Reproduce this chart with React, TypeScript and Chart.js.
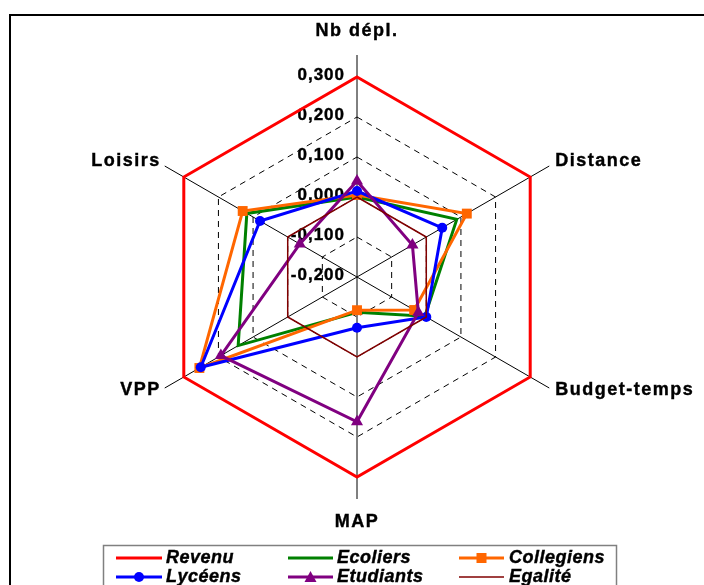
import React, { useEffect, useRef } from "react";
import { Chart, registerables } from "chart.js";
Chart.register(...registerables);

const categories = ["Nb dépl.", "Distance", "Budget-temps", "MAP", "VPP", "Loisirs"];
const tickValues = [0.3, 0.2, 0.1, 0.0, -0.1, -0.2];
const tickLabels = ["0,300", "0,200", "0,100", "0,000", "-0,100", "-0,200"];
const revenu = [0.3, 0.3, 0.3, 0.3, 0.3, 0.3];
const ecoliers = [0.0, 0.088, -0.004, -0.112, 0.143, 0.118];
const collegiens = [0.005, 0.117, -0.035, -0.117, 0.255, 0.13];
const lyceens = [0.015, 0.046, 0.0, -0.073, 0.251, 0.08];
const etudiants = [0.04, -0.04, -0.023, 0.162, 0.193, -0.035];
const egalite = [0, 0, 0, 0, 0, 0];
const seriesNames = ["Revenu", "Ecoliers", "Collegiens", "Lycéens", "Etudiants", "Egalité"];

const RED = "#FF0000";
const GREEN = "#008000";
const ORANGE = "#FF6600";
const BLUE = "#0000FF";
const PURPLE = "#800080";
const MAROON = "#800000";

const legendItems = [
  { name: seriesNames[0], color: RED, width: 3, marker: "" },
  { name: seriesNames[1], color: GREEN, width: 3, marker: "" },
  { name: seriesNames[2], color: ORANGE, width: 3, marker: "rect" },
  { name: seriesNames[3], color: BLUE, width: 3, marker: "circle" },
  { name: seriesNames[4], color: PURPLE, width: 3, marker: "triangle" },
  { name: seriesNames[5], color: MAROON, width: 1.5, marker: "" },
];

function heavyText(ctx: CanvasRenderingContext2D, s: string, x: number, y: number) {
  ctx.fillText(s, x, y);
  ctx.strokeText(s, x, y);
}

const decor = {
  id: "decor",
  beforeDraw(chart: any) {
    const ctx = chart.ctx;
    ctx.save();
    ctx.fillStyle = "#fff";
    ctx.fillRect(0, 0, chart.width, chart.height);
    ctx.strokeStyle = "#000";
    ctx.lineWidth = 2;
    ctx.strokeRect(10, 15, chart.width + 20, chart.height + 20);
    ctx.restore();
  },
  beforeDatasetsDraw(chart: any) {
    const scale = chart.scales.r;
    const ctx = chart.ctx;
    const R = scale.drawingArea;
    const cx = scale.xCenter;
    const cy = scale.yCenter;
    ctx.save();
    ctx.strokeStyle = "#000";
    ctx.lineWidth = 1;
    for (let i = 0; i < categories.length; i++) {
      const p = scale.getPointPosition(i, R + 22);
      ctx.beginPath();
      ctx.moveTo(cx, cy);
      ctx.lineTo(p.x, p.y);
      ctx.stroke();
    }
    ctx.fillStyle = "#000";
    ctx.strokeStyle = "#000";
    ctx.lineWidth = 0.4;
    ctx.font = "bold 17px Arial, 'Liberation Sans', sans-serif";
    (ctx as any).letterSpacing = "1px";
    ctx.textAlign = "right";
    ctx.textBaseline = "middle";
    tickValues.forEach((v, i) => {
      const d = scale.getDistanceFromCenterForValue(v);
      heavyText(ctx, tickLabels[i], cx - 12, cy - d - 2);
    });
    ctx.font = "bold 18px Arial, 'Liberation Sans', sans-serif";
    (ctx as any).letterSpacing = "1.5px";
    categories.forEach((c, i) => {
      if (i === 0) {
        ctx.textAlign = "center";
        heavyText(ctx, c, cx, cy - R - 46);
      } else if (i === 3) {
        ctx.textAlign = "center";
        heavyText(ctx, c, cx, cy + R + 45);
      } else {
        const p = scale.getPointPosition(i, R + 29);
        ctx.textAlign = p.x > cx ? "left" : "right";
        heavyText(ctx, c, p.x > cx ? p.x : p.x + 2, p.y - 1);
      }
    });
    ctx.restore();
  },
  afterDraw(chart: any) {
    const ctx = chart.ctx;
    ctx.save();
    ctx.strokeStyle = "#808080";
    ctx.lineWidth = 1.5;
    ctx.strokeRect(103.5, 545.5, 513, 60);
    const lineX1 = [116, 288, 459];
    const lineX2 = [162, 333, 504];
    const textX = [166, 337, 509];
    const rowY = [558, 577];
    ctx.font = "italic bold 18px Arial, 'Liberation Sans', sans-serif";
    (ctx as any).letterSpacing = "0.5px";
    ctx.textBaseline = "middle";
    ctx.textAlign = "left";
    legendItems.forEach((it, k) => {
      const col = k % 3;
      const row = Math.floor(k / 3);
      const y = rowY[row];
      ctx.strokeStyle = it.color;
      ctx.lineWidth = it.width;
      ctx.beginPath();
      ctx.moveTo(lineX1[col], y);
      ctx.lineTo(lineX2[col], y);
      ctx.stroke();
      const mx = (lineX1[col] + lineX2[col]) / 2;
      ctx.fillStyle = it.color;
      if (it.marker === "rect") {
        ctx.fillRect(mx - 5, y - 5, 10, 10);
      } else if (it.marker === "circle") {
        ctx.beginPath();
        ctx.arc(mx, y, 5, 0, Math.PI * 2);
        ctx.fill();
      } else if (it.marker === "triangle") {
        ctx.beginPath();
        ctx.moveTo(mx, y - 6);
        ctx.lineTo(mx + 6, y + 5);
        ctx.lineTo(mx - 6, y + 5);
        ctx.closePath();
        ctx.fill();
      }
      ctx.fillStyle = "#000";
      ctx.strokeStyle = "#000";
      ctx.lineWidth = 0.4;
      heavyText(ctx, it.name, textX[col], y);
    });
    ctx.restore();
  },
};

export default function App() {
  const ref = useRef<HTMLCanvasElement>(null);
  useEffect(() => {
    if (!ref.current) return;
    const base = { fill: false, borderWidth: 3, tension: 0 };
    const chart = new Chart(ref.current, {
      type: "radar",
      data: {
        labels: categories,
        datasets: [
          { ...base, label: seriesNames[0], data: revenu, borderColor: RED, backgroundColor: RED, pointRadius: 0, order: 6 },
          { ...base, label: seriesNames[1], data: ecoliers, borderColor: GREEN, backgroundColor: GREEN, pointRadius: 0, order: 5 },
          { ...base, label: seriesNames[2], data: collegiens, borderColor: ORANGE, backgroundColor: ORANGE, pointStyle: "rect", pointRadius: 7, pointBorderWidth: 0, order: 4 },
          { ...base, label: seriesNames[3], data: lyceens, borderColor: BLUE, backgroundColor: BLUE, pointStyle: "circle", pointRadius: 5, pointBorderWidth: 0, order: 3 },
          { ...base, label: seriesNames[4], data: etudiants, borderColor: PURPLE, backgroundColor: PURPLE, pointStyle: "triangle", pointRadius: 7, pointBorderWidth: 0, order: 2 },
          { ...base, label: seriesNames[5], data: egalite, borderColor: MAROON, backgroundColor: MAROON, borderWidth: 1.5, pointRadius: 0, order: 1 },
        ],
      } as any,
      options: {
        responsive: false,
        animation: false,
        layout: { padding: { left: 157, right: 147, top: 77, bottom: 108 } },
        plugins: { legend: { display: false }, tooltip: { enabled: false } },
        scales: {
          r: {
            min: -0.2,
            max: 0.3,
            ticks: { stepSize: 0.1, display: false },
            pointLabels: { display: false },
            angleLines: { display: false },
            grid: { color: "#000", lineWidth: 1 },
            border: { dash: [6, 5] },
          },
        },
      } as any,
      plugins: [decor],
    });
    return () => chart.destroy();
  }, []);
  return (
    <div style={{ position: "absolute", left: 0, top: 0, width: 704, height: 585 }}>
      <canvas ref={ref} width={704} height={585} style={{ display: "block" }} />
    </div>
  );
}
